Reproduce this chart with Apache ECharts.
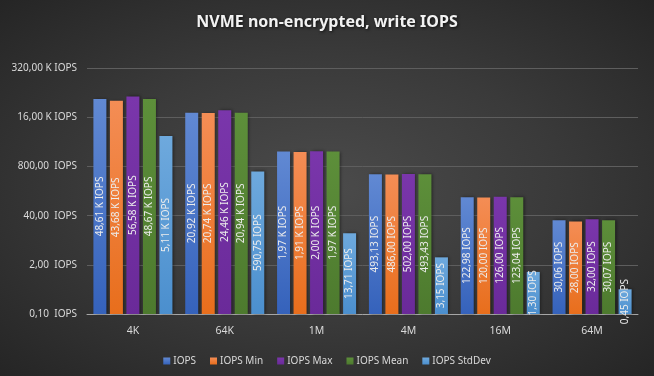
<!DOCTYPE html>
<html>
<head>
<meta charset="utf-8">
<script src="https://cdn.jsdelivr.net/npm/echarts@6/dist/echarts.min.js"></script>
<style>
html,body{margin:0;padding:0;}
#c{width:654px;height:376px;background:radial-gradient(ellipse at center,#4b4b4b 0%,#3a3a3a 50%,#252525 100%);}
</style>
</head>
<body>
<div id="c"></div>
<script>
const categories = ['4K', '64K', '1M', '4M', '16M', '64M'];
const seriesNames = ['IOPS', 'IOPS Min', 'IOPS Max', 'IOPS Mean', 'IOPS StdDev'];
const iops       = [48610, 20920, 1970, 493.13, 122.98, 30.06];
const iopsMin    = [43680, 20740, 1910, 486.00, 120.00, 28.00];
const iopsMax    = [56580, 24460, 2000, 502.00, 126.00, 32.00];
const iopsMean   = [48670, 20940, 1970, 493.43, 123.04, 30.07];
const iopsStdDev = [5110, 590.75, 13.71, 3.15, 1.30, 0.45];
const yTicks = [0.1, 2, 40, 800, 16000, 320000];

const seriesData = [iops, iopsMin, iopsMax, iopsMean, iopsStdDev];
const colors = [
  ['#6189d3', '#3562bb'],
  ['#f48d55', '#e86e1c'],
  ['#7a36ab', '#6a2a99'],
  ['#5d8f3a', '#4d7a2e'],
  ['#6ea9dd', '#4b8fce']
];
function fmtVal(v) {
  if (v >= 1000) return (v / 1000).toFixed(2).replace('.', ',') + ' K IOPS';
  return v.toFixed(2).replace('.', ',') + ' IOPS';
}
function fmtTick(v) {
  let best = yTicks[0];
  for (const t of yTicks) if (Math.abs(Math.log(t) - Math.log(v)) < Math.abs(Math.log(best) - Math.log(v))) best = t;
  if (Math.abs(Math.log(best) - Math.log(v)) > 0.05) return '';
  if (best >= 1000) return (best / 1000).toFixed(2).replace('.', ',') + ' K IOPS';
  return best.toFixed(2).replace('.', ',') + '  IOPS';
}
const FONT = 'Noto Sans';
const chart = echarts.init(document.getElementById('c'), null, {renderer: 'canvas'});
chart.setOption({
  backgroundColor: 'transparent',
  animation: false,
  title: {
    text: 'NVME non-encrypted, write IOPS',
    left: 'center', top: 9,
    textStyle: {color: '#f2f2f2', fontFamily: FONT, fontSize: 16, fontWeight: 'bold',
      textShadowColor: 'rgba(0,0,0,0.7)', textShadowBlur: 3, textShadowOffsetX: 1, textShadowOffsetY: 1}
  },
  legend: {
    data: seriesNames,
    bottom: 5, left: 'center',
    itemWidth: 7, itemHeight: 7, itemGap: 14,
    icon: 'rect',
    textStyle: {color: '#d9d9d9', fontFamily: FONT, fontSize: 10, padding: [0, 0, 0, -2]}
  },
  grid: {left: 87, right: 16, top: 68, bottom: 62, containLabel: false},
  xAxis: {
    type: 'category', data: categories,
    axisLine: {lineStyle: {color: '#a6a6a6', width: 1}},
    axisTick: {show: false},
    axisLabel: {color: '#d9d9d9', fontFamily: FONT, fontSize: 10.5, margin: 12}
  },
  yAxis: {
    type: 'log', logBase: 20, min: 0.1, max: 320000, interval: 1, startValue: 0.1,
    axisLine: {show: false}, axisTick: {show: false},
    splitLine: {lineStyle: {color: '#5e5e5e', width: 1}},
    axisLabel: {color: '#d9d9d9', fontFamily: FONT, fontSize: 10, margin: 10, formatter: fmtTick}
  },
  series: seriesData.map((d, i) => ({
    name: seriesNames[i], type: 'bar', data: d,
    barWidth: 13, barGap: '27%',
    itemStyle: {
      color: {type: 'linear', x: 0, y: 0, x2: 0, y2: 1,
        colorStops: [{offset: 0, color: colors[i][0]}, {offset: 1, color: colors[i][1]}]},
      shadowColor: 'rgba(0,0,0,0.45)', shadowBlur: 3, shadowOffsetX: 1.5, shadowOffsetY: 0
    },
    label: {
      show: true, position: 'inside', rotate: 90,
      color: '#ececec', fontFamily: FONT, fontSize: 10,
      formatter: p => fmtVal(p.value)
    }
  }))
});
</script>
</body>
</html>
